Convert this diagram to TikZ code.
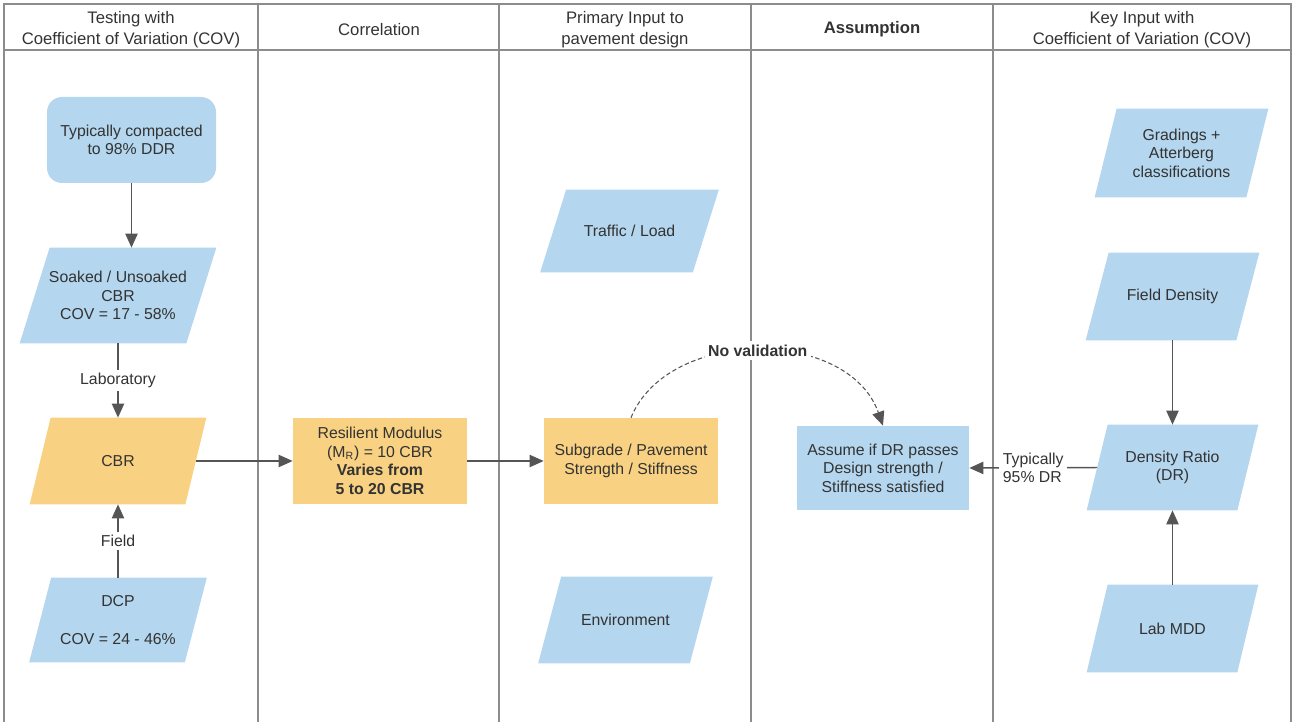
\documentclass[tikz,border=0pt]{standalone}
\usepackage{fontspec}
\setmainfont{Liberation Sans}
\usetikzlibrary{arrows.meta,backgrounds}
\definecolor{boxblue}{HTML}{B4D6EE}
\definecolor{boxorange}{HTML}{F9D182}
\definecolor{txtgray}{HTML}{333333}
\definecolor{conngray}{HTML}{555555}
\definecolor{framegray}{HTML}{8C8C8C}
\newcommand\pxl{0.02cm}
% fill a parallelogram around a rectangle node: #1 node, #2 colour, #3 slant in px
\newcommand\parafill[3]{\fill[#2] ([xshift=#3*0.01cm]#1.north west) -- ([xshift=#3*0.01cm]#1.north east)
  -- ([xshift=-#3*0.01cm]#1.south east) -- ([xshift=-#3*0.01cm]#1.south west) -- cycle;}
\tikzset{
  base/.style={font=\fontsize{9}{10.5}\selectfont, text=txtgray, align=center, inner sep=0pt},
  head/.style={font=\fontsize{9.5}{12}\selectfont, text=txtgray, align=center, inner sep=0pt},
  para/.style={base, rectangle},
  rbox/.style={base, rectangle},
  conn/.style={draw=conngray, line width=0.85pt, -{Triangle[length=8pt,width=7pt]}},
  lbl/.style={base, fill=white, inner sep=2pt},
  frameline/.style={draw=framegray, line width=1.1pt}
}
\begin{document}
\begin{tikzpicture}[x=0.02cm,y=-0.02cm]
\useasboundingbox (0,0) rectangle (1296,722);
% frame
\draw[frameline] (4,730) -- (4,4) -- (1291,4) -- (1291,730);
\draw[frameline] (4,50) -- (1291,50);
\foreach \xx in {258,499,751,993} \draw[frameline] (\xx,4) -- (\xx,730);
% headers
\node[head] (h1) at (131,29.5) {Testing with\\Coefficient of Variation (COV)};
\node[head] (h2) at (379,29.5) {Correlation};
\node[head] (h3) at (625,29.5) {Primary Input to\\pavement design};
\node[head, font=\fontsize{9.5}{12}\selectfont\bfseries] (h4) at (872,29.5) {Assumption};
\node[head] (h5) at (1142,29.5) {Key Input with\\Coefficient of Variation (COV)};
% column 1
\node[rbox, fill=boxblue, rounded corners=0.3cm, minimum width=169*\pxl, minimum height=86*\pxl]
  (top) at (131.5,140) {Typically compacted\\to 98\% DDR};
\node[para, minimum width=166*\pxl, minimum height=95*\pxl] (soaked) at (118,295.5)
  {Soaked / Unsoaked\\CBR\\COV = 17 - 58\%};
\node[para, minimum width=155*\pxl, minimum height=86*\pxl] (cbr) at (118,461) {CBR};
\node[para, minimum width=155*\pxl, minimum height=84*\pxl] (dcp) at (118,620)
  {DCP\\[11pt]COV = 24 - 46\%};
% column 2
\node[rbox, fill=boxorange, minimum width=174*\pxl, minimum height=86*\pxl] (res) at (380,461)
  {Resilient Modulus\\(M\textsubscript{R}) = 10 CBR\\\textbf{Varies from}\\\textbf{5 to 20 CBR}};
% column 3
\node[para, minimum width=152*\pxl, minimum height=82*\pxl] (traffic) at (629.5,231) {Traffic / Load};
\node[rbox, fill=boxorange, minimum width=174*\pxl, minimum height=86*\pxl] (sub) at (631,461)
  {Subgrade / Pavement\\Strength / Stiffness};
\node[para, minimum width=151*\pxl, minimum height=86*\pxl] (env) at (625.5,620) {Environment};
% column 4
\node[rbox, fill=boxblue, minimum width=172*\pxl, minimum height=84*\pxl] (assume) at (883,468)
  {Assume if DR passes\\Design strength /\\Stiffness satisfied};
% column 5
\node[para, minimum width=151*\pxl, minimum height=88*\pxl] (grad) at (1181.5,153)
  {Gradings +\\Atterberg\\classifications};
\node[para, minimum width=150*\pxl, minimum height=87*\pxl] (field) at (1172.5,296.5) {Field Density};
\node[para, minimum width=150*\pxl, minimum height=85*\pxl] (dr) at (1172.5,467.5)
  {Density Ratio\\(DR)};
\node[para, minimum width=150*\pxl, minimum height=87*\pxl] (lab) at (1172.5,628.5) {Lab MDD};
% parallelogram fills behind the texts
\begin{scope}[on background layer]
  \parafill{soaked}{boxblue}{30}
  \parafill{cbr}{boxorange}{21}
  \parafill{dcp}{boxblue}{22}
  \parafill{traffic}{boxblue}{26}
  \parafill{env}{boxblue}{23}
  \parafill{grad}{boxblue}{22}
  \parafill{field}{boxblue}{23}
  \parafill{dr}{boxblue}{21}
  \parafill{lab}{boxblue}{21}
\end{scope}
% connectors
\draw[conn] (top.south) -- (top.south |- soaked.north);
\draw[conn] (soaked.south) -- node[lbl] (lablab) {Laboratory} (cbr.north);
\draw[conn] (dcp.north) -- node[lbl] (labfield) {Field} (cbr.south);
\draw[conn] (cbr.east) -- (res.west);
\draw[conn] (res.east) -- (sub.west);
\draw[conn, dash pattern=on 2.5pt off 1.5pt, line width=0.6pt] (sub.north) .. controls (668,327) and (848,327) ..
  node[lbl, font=\fontsize{9}{10.5}\selectfont\bfseries] (nv) {No validation} (assume.north);
\draw[conn] (field.south) -- (dr.north);
\draw[conn] (lab.north) -- (dr.south);
\draw[conn] (dr.west) -- node[lbl, align=left] (typ) {Typically\\95\% DR} (assume.east);
\end{tikzpicture}
\end{document}
